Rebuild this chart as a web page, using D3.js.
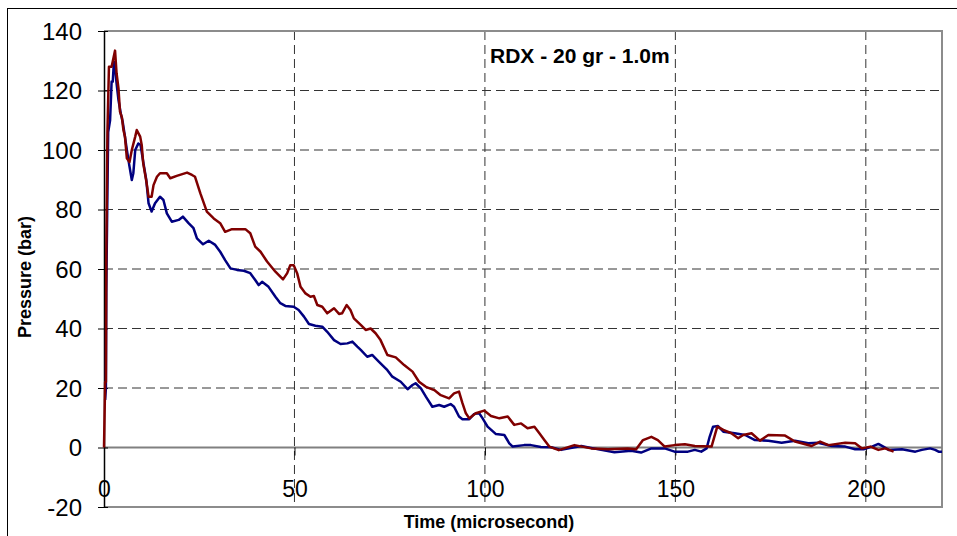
<!DOCTYPE html>
<html>
<head>
<meta charset="utf-8">
<script src="https://cdn.jsdelivr.net/npm/d3@7"></script>
<style>
    body { margin: 0; background: #fff; }
    text { font-family: "Liberation Sans", Arial, sans-serif; }
</style>
</head>
<body>
<div id="chart"></div>
<script>
// tick labels
var xTicks = [0, 50, 100, 150, 200];
var yTicks = [-20, 0, 20, 40, 60, 80, 100, 120, 140];

// blue gauge (time in microseconds, pressure in bar)
var blueTime = [0.3, 0.5, 0.6, 0.7, 0.9, 1.1, 1.6, 2.0, 2.3, 2.6, 2.9, 3.3, 3.8, 4.4, 4.9, 5.5, 6.0, 6.7, 7.3, 7.7,
    8.2, 9.0, 9.6, 10.3, 11.1, 11.7, 12.5, 13.4, 14.7, 15.6, 16.5, 17.8, 19.6, 20.7, 22.2, 23.5, 24.4, 26.0, 27.5, 29.2,
    30.5, 31.8, 33.2, 34.9, 36.7, 38.4, 39.7, 40.6, 41.5, 43.2, 45.0, 46.3, 47.6, 49.8, 51.1, 52.5, 53.8, 55.5, 57.3, 58.6,
    60.4, 62.1, 63.9, 65.2, 66.5, 67.4, 69.1, 70.4, 72.2, 74.4, 75.7, 77.9, 79.7, 81.0, 81.8, 83.2, 84.5, 86.2, 88.0, 89.3,
    91.0, 91.9, 93.2, 94.1, 95.9, 97.2, 98.5, 99.4, 100.7, 102.9, 105.1, 106.4, 107.3, 110.3, 112.1, 114.7, 117.4, 120.0, 125.3, 130.5,
    134.0, 138.4, 141.0, 143.7, 147.2, 149.8, 153.3, 155.1, 156.8, 158.2, 159.0, 159.9, 161.2, 162.6, 165.6, 168.3, 170.9, 174.4, 177.9, 181.4,
    184.9, 187.5, 191.0, 194.6, 197.2, 199.4, 201.6, 203.3, 204.6, 206.0, 209.5, 213.0, 214.7, 216.9, 218.2, 219.1, 220.0];
var bluePressure = [16, 20, 52, 64, 86, 106, 110, 123, 123, 129.7, 128, 122.4, 116.8, 112.3, 109.5, 104.5, 100, 94.4, 89.9, 92.2,
    100, 102.2, 101.7, 96, 89.9, 82.1, 79.3, 82.1, 84.3, 83.2, 78.7, 75.9, 76.5, 77.6, 75.4, 73.7, 70.3, 68.3, 69.5, 68.1,
    65.8, 63, 60.2, 59.7, 59.4, 58.6, 56.3, 54.6, 55.7, 54, 50.7, 48.5, 47.6, 47.3, 46.2, 44, 41.5, 40.9, 40.6, 38.9,
    36.1, 34.8, 35, 35.6, 33.9, 32.8, 30.5, 31.1, 28.8, 26, 23.8, 22.1, 19.6, 21, 21.6, 19.9, 17.1, 13.7, 14.3, 13.7,
    14.6, 13.7, 10.4, 9.5, 9.5, 11.3, 11.5, 9.8, 7, 4.5, 4.2, 1.4, 0.3, 0.8, 0.8, 0.2, 0.1, -0.8, 0.5, -0.8,
    -1.6, -1.1, -1.7, -0.3, -0.3, -1.4, -1.4, -0.8, -1.4, -0.3, 3.6, 7, 7.2, 5.3, 4.8, 4.2, 2.5, 2.3, 1.6, 2.3,
    1.4, 1.6, 0.5, 0.3, -0.6, -0.6, 0.3, 1.2, 0.3, -0.8, -0.6, -1.4, -0.8, -0.3, -0.8, -1.4, -1.4];

// red gauge
var redTime = [0, 0.3, 0.5, 0.6, 0.9, 1.3, 2.0, 2.5, 2.9, 3.3, 3.8, 4.2, 4.7, 5.1, 5.5, 6.0, 6.7, 7.3, 8.2, 8.6,
    9.5, 9.9, 10.3, 11.2, 11.7, 12.5, 13.0, 13.9, 14.7, 16.5, 17.4, 19.1, 21.8, 23.1, 23.9, 25.3, 27.0, 28.8, 30.5, 31.8,
    33.6, 37.1, 38.4, 39.7, 41.1, 42.8, 45.0, 47.0, 48.1, 48.9, 49.8, 50.7, 51.6, 52.9, 54.2, 55.1, 56.0, 57.3, 58.6, 60.4,
    61.7, 62.5, 63.7, 64.7, 65.6, 67.4, 68.7, 70.0, 71.3, 72.6, 74.4, 76.6, 78.8, 81.0, 82.7, 84.5, 86.7, 88.4, 90.6, 91.9,
    93.2, 94.1, 95.0, 95.9, 97.6, 99.8, 101.6, 103.8, 106.0, 107.7, 109.5, 111.2, 113.0, 114.3, 115.6, 116.9, 119.4, 123.5, 127.9, 132.3,
    137.5, 139.7, 141.5, 143.7, 145.4, 147.2, 149.8, 152.5, 155.1, 159.5, 161.0, 162.6, 164.7, 166.5, 167.8, 170.0, 172.2, 174.4, 178.8, 181.4,
    185.8, 188.0, 190.2, 194.6, 197.2, 199.0, 201.2, 203.3, 205.1, 207.3];
var redPressure = [0, 22, 22, 64, 106, 128, 128, 131, 133.4, 125.8, 120.7, 112.9, 111, 106.7, 104.5, 97.2, 96, 100, 104.5, 106.7,
    104.5, 101.7, 95.5, 88.8, 84.3, 84.3, 88.2, 91, 92.2, 92.2, 90.5, 91.3, 92.4, 91.6, 91, 85.4, 79.3, 77, 75.4, 72.5,
    73.4, 73.4, 72, 67.5, 65.8, 62.5, 59.1, 56.5, 58.6, 61.3, 61.3, 58.6, 54, 51.8, 50.7, 50.9, 47.9, 47.3, 45.1, 46.8,
    44.9, 45.1, 47.9, 46.2, 43.4, 41.2, 39.5, 40, 38.4, 36.1, 31.1, 30.3, 27.7, 25.5, 22.1, 20.4, 19.3, 17.6, 16.5, 18.2,
    18.8, 14.9, 11.5, 9.8, 11.5, 12.4, 10.6, 9.8, 10.4, 7.6, 8.1, 6.5, 7, 4.8, 2.5, 0.3, -0.9, 0.8, -0.3, -0.6,
    -0.3, -0.6, 2.5, 3.6, 2.5, 0.3, 0.8, 1.1, 0.5, 0.3, 7, 5.9, 4.8, 3.1, 4.2, 4.8, 2.3, 4.2, 4, 2,
    0.5, 2, 0.8, 1.6, 1.4, -0.3, 0.3, -0.8, -0.3, -1.4];

var chartTitle = "RDX - 20 gr - 1.0m";

var W = 957, H = 536;
var plot = {left: 104, right: 942, top: 31, bottom: 507};

var svg = d3.select("#chart")
    .append("svg")
    .attr("width", W)
    .attr("height", H);

// outer chart frame (only top/left edges fall inside the picture)
svg.append("rect")
    .attr("x", 7.5).attr("y", 8.5)
    .attr("width", 1000).attr("height", 600)
    .attr("fill", "none")
    .attr("stroke", "#000")
    .attr("stroke-width", 1);

var x = d3.scaleLinear().domain([0, 220]).range([plot.left, plot.right]);
var y = d3.scaleLinear().domain([-20, 140]).range([plot.bottom, plot.top]);

// dashed grid
svg.append("g")
    .selectAll("line")
    .data(yTicks.filter(d => d != 0 && d != -20))
    .enter()
    .append("line")
    .attr("x1", plot.left).attr("x2", plot.right)
    .attr("y1", d => y(d)).attr("y2", d => y(d))
    .attr("stroke", "#333")
    .attr("stroke-dasharray", "9,5");

svg.append("g")
    .selectAll("line")
    .data(xTicks.filter(d => d != 0))
    .enter()
    .append("line")
    .attr("x1", d => x(d)).attr("x2", d => x(d))
    .attr("y1", plot.top).attr("y2", plot.bottom)
    .attr("stroke", "#333")
    .attr("stroke-dasharray", "9,5");

// plot border (grey)
svg.append("path")
    .attr("d", "M" + plot.left + "," + plot.top + "H" + plot.right + "V" + plot.bottom + "H" + plot.left)
    .attr("fill", "none")
    .attr("stroke", "#8c8c8c")
    .attr("stroke-width", 2);

// zero line
svg.append("line")
    .attr("x1", plot.left).attr("x2", plot.right)
    .attr("y1", y(0)).attr("y2", y(0))
    .attr("stroke", "#808080")
    .attr("stroke-width", 2);

// y axis
var yAxis = svg.append("g")
    .attr("transform", "translate(" + plot.left + ",0)")
    .call(d3.axisLeft(y).tickValues(yTicks).tickFormat(d => String(d))
        .tickSize(6).tickPadding(16).tickSizeOuter(0));
yAxis.select(".domain").attr("stroke", "#000").attr("stroke-width", 1.5);
yAxis.selectAll(".tick line").attr("stroke", "#000").attr("x2", -6).attr("x1", 4);
yAxis.selectAll("text")
    .attr("font-size", "24px")
    .attr("fill", "#000")
    .attr("dy", "0.34em");

// x axis sits on the zero line, labels below it
var xAxis = svg.append("g")
    .attr("transform", "translate(0," + y(0) + ")")
    .call(d3.axisBottom(x).tickValues(xTicks).tickFormat(d => String(d))
        .tickSize(8).tickPadding(0).tickSizeOuter(0));
xAxis.select(".domain").remove();
xAxis.selectAll(".tick line").attr("stroke", "#000");
xAxis.selectAll("text")
    .attr("font-size", "23px")
    .attr("fill", "#000")
    .attr("dy", "0")
    .attr("y", 49);

var line = d3.line()
    .x(d => x(d[0]))
    .y(d => y(d[1]));

var blue = blueTime.map((t, i) => [t, bluePressure[i]]);
var red = redTime.map((t, i) => [t, redPressure[i]]);

svg.append("path")
    .datum(blue)
    .attr("d", line)
    .attr("fill", "none")
    .attr("stroke", "#000080")
    .attr("stroke-width", 2.5)
    .attr("stroke-linejoin", "round");

svg.append("path")
    .datum(red)
    .attr("d", line)
    .attr("fill", "none")
    .attr("stroke", "#800000")
    .attr("stroke-width", 2.5)
    .attr("stroke-linejoin", "round");

// titles
svg.append("text")
    .attr("x", 490).attr("y", 63)
    .attr("font-size", "21px")
    .attr("font-weight", "bold")
    .text(chartTitle);

svg.append("text")
    .attr("x", 489).attr("y", 528)
    .attr("text-anchor", "middle")
    .attr("font-size", "18px")
    .attr("font-weight", "bold")
    .text("Time (microsecond)");

svg.append("text")
    .attr("transform", "translate(31,277) rotate(-90)")
    .attr("text-anchor", "middle")
    .attr("font-size", "18px")
    .attr("font-weight", "bold")
    .text("Pressure (bar)");
</script>
</body>
</html>
